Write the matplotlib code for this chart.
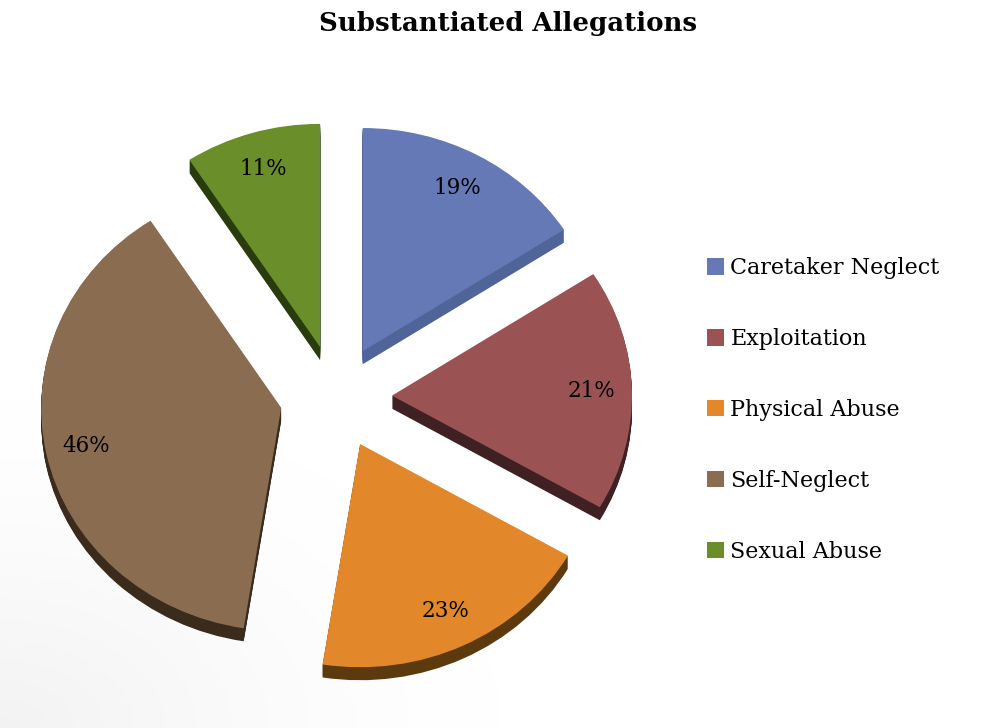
import numpy as np
import matplotlib
matplotlib.use('Agg')
import matplotlib.pyplot as plt

# data (labels as printed on the slices)
categories = ['Caretaker Neglect', 'Exploitation', 'Physical Abuse', 'Self-Neglect', 'Sexual Abuse']
values = [19, 21, 23, 46, 11]
pct_labels = ['19%', '21%', '23%', '46%', '11%']

top_colors = ['#6479b5', '#9a5253', '#e3882a', '#8a6c50', '#6a8e29']
side_colors = ['#4f6498', '#3f2023', '#5c3a0e', '#3a2b1d', '#283c0d']

plt.rcParams['font.family'] = ['DejaVu Serif']

W, H = 986, 728
fig = plt.figure(figsize=(W / 100, H / 100), dpi=100)

# very faint grey shading in the lower-left corner of the background
bg = fig.add_axes([0, 0, 1, 1], zorder=-1)
yy, xx = np.mgrid[0:H, 0:W]
dist = np.hypot(xx / 500, (H - yy) / 330)
shade = 1 - 0.05 * np.clip(1 - dist, 0, 1) ** 1.5
bg.imshow(np.dstack([shade] * 3), extent=[0, W, 0, H], aspect='auto')
bg.axis('off')

ax = fig.add_axes([0, 0, 1, 1])
ax.patch.set_alpha(0)

cx, cy = 336, H - 397      # pie centre in pixels
R = 240
s = 0.93                   # vertical squash (tilted view)
explode = [56] * len(values)
depth = 13

# fake 3D: stack darker copies of the pie below the top face
for dz in range(depth, 0, -1):
    ax.pie(values, explode=explode, radius=R, center=(cx, cy - dz / s),
           colors=side_colors, startangle=90, counterclock=False,
           wedgeprops=dict(linewidth=0, antialiased=True))

wedges, texts, autotexts = ax.pie(values, explode=explode, radius=R, center=(cx, cy),
                                  colors=top_colors, startangle=90, counterclock=False,
                                  autopct='%1.0f%%', pctdistance=0.83,
                                  wedgeprops=dict(linewidth=0, antialiased=True),
                                  textprops=dict(fontsize=15.5, color='black'))
for t, lab in zip(autotexts, pct_labels):
    t.set_text(lab)

ax.set_aspect('auto')
ax.set_xlim(0, W)
ax.set_ylim(cy - cy / s, cy + (H - cy) / s)
ax.axis('off')

fig.text(0.515, 1 - 24 / H, 'Substantiated Allegations', ha='center', va='center',
         fontsize=18.7, fontweight='bold')

fig.legend(wedges, categories, loc='center left', bbox_to_anchor=(696 / W, 1 - 410 / H),
           frameon=False, fontsize=16, handlelength=0.75, handleheight=0.75,
           handletextpad=0.3, labelspacing=2.2, borderpad=0)

fig.savefig('out.png', dpi=100)
